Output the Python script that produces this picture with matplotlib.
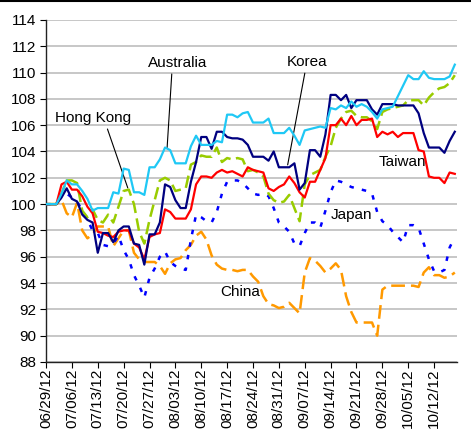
import matplotlib
matplotlib.use('Agg')
import matplotlib.pyplot as plt
from matplotlib.lines import Line2D
import numpy as np

plt.rcParams.update({
    'font.family': ['Liberation Sans', 'DejaVu Sans'],
    'font.size': 11,
})

# ============================================================
# DATA (index, business days from 06/29/12 = 100)
# ============================================================
tick_labels = ['06/29/12', '07/06/12', '07/13/12', '07/20/12', '07/27/12', '08/03/12',
               '08/10/12', '08/17/12', '08/24/12', '08/31/12', '09/07/12', '09/14/12',
               '09/21/12', '09/28/12', '10/05/12', '10/12/12']

australia = [100, 100, 100, 100.8, 101.8, 101.5, 101.5, 101.0, 100.4, 99.5,
             99.7, 99.7, 99.7, 100.9, 100.8, 102.7, 102.6, 100.9, 100.9, 100.7,
             102.8, 102.8, 103.4, 104.3, 104.1, 103.1, 103.1, 103.1, 104.4, 105.2,
             104.5, 104.5, 104.5, 104.8, 104.7, 106.8, 106.8, 106.6, 106.9, 107.0,
             106.2, 106.2, 106.2, 106.5, 105.4, 105.4, 105.4, 105.8, 105.2, 104.5,
             105.6, 105.7, 105.8, 105.9, 105.8, 107.3, 107.2, 107.5, 107.3, 107.8,
             107.4, 107.6, 107.4, 107.0, 106.5, 107.2, 107.3, 107.4, 108.2, 109.0,
             109.8, 109.5, 109.5, 110.1, 109.6, 109.5, 109.5, 109.5, 109.7, 110.6]

korea = [100, 100, 100, 100.5, 101.2, 100.4, 100.2, 99.2, 98.8, 98.6,
         96.3, 97.8, 97.8, 97.1, 98.0, 98.3, 98.3, 97.0, 96.9, 95.4,
         97.7, 97.7, 98.6, 101.5, 101.3, 100.3, 99.7, 99.7, 101.7, 103.2,
         105.1, 105.1, 104.2, 105.5, 105.5, 105.1, 105.0, 105.0, 104.9, 104.5,
         103.6, 103.6, 103.6, 103.3, 104.0, 102.8, 102.8, 102.8, 103.1, 101.1,
         101.6, 104.1, 104.1, 103.6, 105.3, 108.3, 108.3, 107.9, 108.3, 107.3,
         107.9, 107.9, 107.9, 107.2, 106.8, 107.6, 107.6, 107.6, 107.5, 107.5,
         107.5, 107.5, 106.9, 105.4, 104.3, 104.3, 104.3, 103.9, 104.8, 105.5]

taiwan = [100, 100, 100, 101.5, 101.7, 101.1, 101.1, 100.6, 99.8, 99.3,
          97.9, 97.8, 97.6, 97.5, 97.9, 98.0, 98.0, 97.0, 96.7, 95.8,
          97.5, 97.7, 97.8, 99.6, 99.4, 98.9, 98.9, 98.9, 99.6, 101.5,
          102.1, 102.1, 102.0, 102.4, 102.6, 102.4, 102.5, 102.3, 102.1, 102.8,
          102.6, 102.5, 102.4, 101.2, 101.0, 101.3, 101.5, 102.1, 101.6, 100.9,
          100.5, 101.7, 101.7, 102.6, 103.5, 106.0, 106.0, 106.5, 106.0, 106.7,
          106.0, 106.4, 106.4, 106.5, 105.1, 105.5, 105.3, 105.5, 105.1, 105.4,
          105.4, 105.4, 104.1, 104.0, 102.1, 102.0, 102.0, 101.6, 102.4, 102.3]

hong_kong = [100, 100, 100, 100.8, 101.8, 101.8, 101.6, 99.5, 99.0, 99.6,
             98.8, 98.6, 99.2, 98.6, 99.8, 101.0, 101.1, 100.0, 97.9, 97.0,
             98.8, 100.3, 101.8, 102.0, 101.8, 101.0, 101.1, 101.2, 103.0, 103.2,
             103.7, 103.6, 103.6, 104.3, 103.2, 103.5, 103.4, 103.5, 103.4, 102.5,
             102.6, 102.4, 102.1, 100.8, 100.3, 100.1, 100.2, 100.7, 99.7, 98.7,
             101.5, 102.2, 102.4, 102.6, 103.6, 104.4, 105.8, 106.5, 107.0, 107.1,
             106.7, 106.6, 106.6, 106.3, 105.7, 107.0, 107.2, 107.3, 107.4, 107.5,
             107.9, 107.9, 107.9, 107.5, 108.1, 108.5, 108.8, 108.9, 109.2, 109.8]

japan = [100, 100, 100.2, 100.5, 100.8, 100.5, 100.2, 99.5, 98.8, 98.0,
         97.8, 96.9, 96.8, 97.0, 97.6, 96.5, 95.8, 94.6, 93.8, 92.9,
         94.4, 95.1, 96.0, 96.4, 95.6, 95.3, 95.1, 95.0, 97.3, 99.2,
         99.0, 98.7, 98.6, 99.4, 100.8, 101.7, 101.8, 101.8, 101.6, 101.2,
         100.8, 100.7, 100.8, 100.6, 99.7, 98.6, 98.3, 97.9, 97.0, 96.8,
         97.8, 98.6, 98.6, 98.2, 99.5, 100.9, 101.8, 101.7, 101.5, 101.3,
         101.2, 101.1, 101.0, 100.8, 99.4, 98.7, 98.4, 97.9, 97.5, 97.1,
         98.4, 98.4, 98.2, 97.0, 95.8, 94.9, 94.8, 95.0, 96.7, 97.5]

china = [100, 100, 100, 100.3, 99.3, 99.0, 100.1, 98.0, 97.4, 97.7,
         98.3, 98.3, 98.3, 96.8, 97.4, 98.0, 98.0, 96.3, 95.8, 95.6,
         95.6, 95.6, 95.3, 94.7, 95.5, 95.8, 95.9, 96.5, 96.9, 97.6,
         97.9, 97.3, 96.1, 95.4, 95.1, 95.0, 95.0, 94.9, 95.0, 95.0,
         94.5, 94.1, 93.0, 92.4, 92.3, 92.1, 92.2, 92.5, 92.1, 91.7,
         94.8, 95.9, 95.7, 95.3, 94.8, 95.1, 95.5, 95.0, 93.0, 91.8,
         91.0, 91.0, 91.0, 91.0, 90.0, 93.5, 93.8, 93.8, 93.8, 93.8,
         93.8, 93.8, 93.7, 94.8, 95.2, 94.6, 94.6, 94.4, 94.5, 94.8]

x = np.arange(len(australia))

# ============================================================
# FIGURE
# ============================================================
fig = plt.figure(figsize=(4.71, 4.33), dpi=100)
ax = fig.add_axes([0.0977, 0.164, 0.8723, 0.790])

ax.plot(x, china, color='#FF9900', lw=1.8, ls=(0, (5.5, 2.4)), zorder=2)
ax.plot(x, japan, color='#0000FF', lw=1.8, ls=(0, (1.8, 3.3)), zorder=3)
ax.plot(x, hong_kong, color='#99CC00', lw=1.8, ls=(0, (5, 2.2)), zorder=4)
ax.plot(x, taiwan, color='#FF0000', lw=1.6, zorder=5)
ax.plot(x, korea, color='#000080', lw=1.6, zorder=6)
ax.plot(x, australia, color='#1FC8F5', lw=1.6, zorder=7)

ax.set_ylim(88, 114)
ax.set_yticks(np.arange(88, 115, 2))
ax.set_xlim(0, 79.4)
ax.set_xticks(np.arange(0, len(x), 5))
ax.set_xticklabels(tick_labels, rotation=90)
ax.tick_params(axis='x', direction='out', length=4, pad=1, labelsize=11)
ax.tick_params(axis='y', direction='out', length=4, pad=3, labelsize=11)

ax.grid(True, axis='y', color='#B8B8B8', lw=1.1)
ax.set_axisbelow(True)
for s in ['top', 'right']:
    ax.spines[s].set_visible(False)
for s in ['left', 'bottom']:
    ax.spines[s].set_color('#222222')
    ax.spines[s].set_linewidth(1.0)

# Series labels
line_kw = dict(arrowstyle='-', color='black', lw=0.8, shrinkA=1, shrinkB=0)
ax.annotate('Australia', xy=(23.4, 104.27), xytext=(25.5, 110.74), ha='center', va='center',
            arrowprops=dict(relpos=(0.4, 0), **line_kw))
ax.annotate('Hong Kong', xy=(15.8, 101.23), xytext=(9.1, 106.55), ha='center', va='center',
            arrowprops=dict(relpos=(0.67, 0), **line_kw))
ax.annotate('Korea', xy=(46.7, 102.98), xytext=(50.4, 110.8), ha='center', va='center',
            arrowprops=dict(relpos=(0.47, 0), **line_kw))
ax.text(68.9, 103.2, 'Taiwan', ha='center', va='center')
ax.text(59.1, 99.18, 'Japan', ha='center', va='center')
ax.text(37.5, 93.3, 'China', ha='center', va='center')

# thin frame line along the top of the image
fig.add_artist(Line2D([0, 1], [0.998, 0.998], transform=fig.transFigure, color='black', lw=1.5))

fig.savefig('out.png', dpi=100, facecolor='white')
